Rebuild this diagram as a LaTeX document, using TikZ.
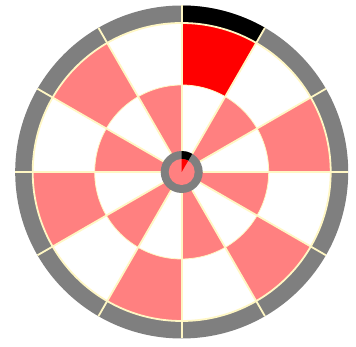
\documentclass[tikz,border=0pt]{standalone}
\usepackage{xcolor}
\usepackage{tikz}
\definecolor{boardpink}{HTML}{FF8080}
\definecolor{boardgray}{HTML}{7F7F7F}
\definecolor{seamyellow}{HTML}{FFF7C4}
\tikzset{seam/.style={draw=seamyellow,line width=1.8pt}}

\begin{document}
\begin{tikzpicture}[x=1pt,y=1pt]
  \useasboundingbox (0,0) rectangle (356,347);
  \coordinate (c) at (181.7,175);
  % outer gray ring with black segment
  \fill[boardgray] (c) circle (166.5);
  \fill[black] (c) -- ++(90:166.5) arc[start angle=90,end angle=60,radius=166.5] -- cycle;
  \fill[white] (c) circle (149);
  % outer sectors
  \foreach \i in {2,4,...,10}
    \fill[boardpink] (c) -- ++(90-30*\i:149) arc[start angle=90-30*\i,end angle=60-30*\i,radius=149] -- cycle;
  \fill[red] (c) -- ++(90:149) arc[start angle=90,end angle=60,radius=149] -- cycle;
  % inner sectors
  \fill[white] (c) circle (87);
  \foreach \i in {1,3,...,11}
    \fill[boardpink] (c) -- ++(90-30*\i:87) arc[start angle=90-30*\i,end angle=60-30*\i,radius=87] -- cycle;
  % seams
  \foreach \a in {0,30,...,330}
    \draw[seam] (c) ++(\a:21) -- ++(\a:145.5);
  \draw[seam] (c) circle (149);
  \draw[seam,line width=0.8pt] (c) circle (87);
  % bull
  \fill[boardgray] (c) circle (21);
  \fill[black] (c) -- ++(90:21) arc[start angle=90,end angle=60,radius=21] -- cycle;
  \fill[boardpink] (c) circle (13);
  \fill[red] (c) -- ++(90:13) arc[start angle=90,end angle=60,radius=13] -- cycle;
\end{tikzpicture}
\end{document}
